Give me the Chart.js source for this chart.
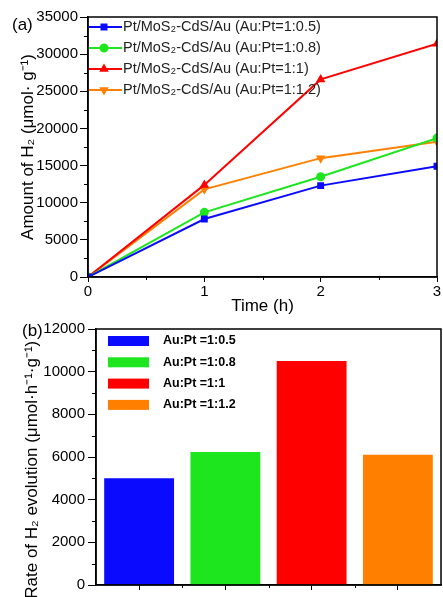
<!DOCTYPE html>
<html>
<head>
<meta charset="utf-8">
<script src="https://cdn.jsdelivr.net/npm/chart.js@4.4.0/dist/chart.umd.min.js"></script>
<style>
  html, body { margin: 0; padding: 0; background: #fff; }
  #wrap { position: relative; width: 443px; height: 597px; overflow: hidden; }
  .box { position: absolute; left: 0; width: 443px; }
  #boxA { top: 0; height: 320px; }
  #boxB { top: 290px; height: 307px; }
</style>
</head>
<body>
<div id="wrap">
  <div class="box" id="boxB"><canvas id="rateChart" width="443" height="307"></canvas></div>
  <div class="box" id="boxA"><canvas id="amountChart" width="443" height="320"></canvas></div>
</div>
<script>
// data
const times = [0, 1, 2, 3];
const seriesNames = [
  'Pt/MoS₂-CdS/Au (Au:Pt=1:0.5)',
  'Pt/MoS₂-CdS/Au (Au:Pt=1:0.8)',
  'Pt/MoS₂-CdS/Au (Au:Pt=1:1)',
  'Pt/MoS₂-CdS/Au (Au:Pt=1:1.2)'
];
const amountBlue = [0, 7800, 12300, 14900];
const amountGreen = [0, 8700, 13500, 18700];
const amountRed = [0, 12400, 26600, 31400];
const amountOrange = [0, 11800, 16000, 18200];

const ratioLabels = ['Au:Pt =1:0.5', 'Au:Pt =1:0.8', 'Au:Pt =1:1', 'Au:Pt =1:1.2'];
const rates = [5000, 6230, 10500, 6100];

const colors = ['#0a0aff', '#1ee61e', '#ff0000', '#ff8000'];
const markers = [
  { style: 'rect', rot: 0 },
  { style: 'circle', rot: 0 },
  { style: 'triangle', rot: 0 },
  { style: 'triangle', rot: 180 }
];

const FONT = "'Liberation Sans', Arial, sans-serif";
Chart.defaults.font.family = FONT;
Chart.defaults.color = '#000';

const plainNumber = v => String(v);

// frame box, minor ticks and panel letter
const frameTicks = {
  id: 'frameTicks',
  afterDraw(chart, args, opts) {
    const { ctx, chartArea: a } = chart;
    const xs = chart.scales.x, ys = chart.scales.y;
    ctx.save();
    ctx.strokeStyle = '#000';
    ctx.lineWidth = 1;
    ctx.beginPath();
    for (let v = opts.xStart; v <= opts.xEnd; v += opts.xStep) {
      const px = Math.round(xs.getPixelForValue(v)) + 0.5;
      ctx.moveTo(px, a.bottom);
      ctx.lineTo(px, a.bottom + 3);
    }
    for (let v = opts.yStart; v <= ys.max; v += opts.yStep) {
      const py = Math.round(ys.getPixelForValue(v)) + 0.5;
      ctx.moveTo(a.left, py);
      ctx.lineTo(a.left - 4, py);
    }
    ctx.stroke();
    ctx.lineWidth = 1.5;
    ctx.strokeRect(a.left, a.top, a.right - a.left, a.bottom - a.top);
    ctx.fillStyle = '#000';
    ctx.font = '17px ' + FONT;
    ctx.textBaseline = 'middle';
    ctx.fillText(opts.panel, opts.panelX, opts.panelY);
    ctx.restore();
  }
};

// legend with line + marker, inside the plot
const lineLegend = {
  id: 'lineLegend',
  afterDraw(chart, args, opts) {
    const { ctx, chartArea: a } = chart;
    ctx.save();
    ctx.font = '14.5px ' + FONT;
    ctx.textBaseline = 'middle';
    chart.data.datasets.forEach((ds, i) => {
      const y = opts.top + i * opts.gap;
      ctx.strokeStyle = ds.borderColor;
      ctx.fillStyle = ds.borderColor;
      ctx.lineWidth = 2;
      ctx.beginPath();
      ctx.moveTo(a.left + 1, y);
      ctx.lineTo(a.left + 34, y);
      ctx.stroke();
      Chart.helpers.drawPoint(ctx, {
        pointStyle: ds.pointStyle, rotation: ds.pointRotation,
        radius: 3.5, borderWidth: 1
      }, a.left + 16, y);
      ctx.fillStyle = '#222';
      ctx.fillText(ds.label, a.left + 35, y);
    });
    ctx.restore();
  }
};

// legend with colour boxes for the bar chart
const boxLegend = {
  id: 'boxLegend',
  afterDraw(chart, args, opts) {
    const { ctx } = chart;
    const ds = chart.data.datasets[0];
    ctx.save();
    ctx.font = 'bold 12.5px ' + FONT;
    ctx.textBaseline = 'middle';
    chart.data.labels.forEach((lab, i) => {
      const y = opts.top + i * opts.gap;
      ctx.fillStyle = ds.backgroundColor[i];
      ctx.fillRect(opts.left, y - 5, 41, 10);
      ctx.fillStyle = '#000';
      ctx.fillText(lab, opts.left + 55, y);
    });
    ctx.restore();
  }
};

const amountSeries = [amountBlue, amountGreen, amountRed, amountOrange];

new Chart(document.getElementById('amountChart'), {
  type: 'line',
  data: {
    datasets: amountSeries.map((vals, i) => ({
      label: seriesNames[i],
      data: times.map((t, k) => ({ x: t, y: vals[k] })),
      borderColor: colors[i],
      backgroundColor: colors[i],
      borderWidth: 2,
      pointStyle: markers[i].style,
      pointRotation: markers[i].rot,
      pointRadius: 3.5,
      tension: 0
    }))
  },
  options: {
    responsive: false,
    animation: false,
    layout: { padding: { top: 17, right: 6, left: 0, bottom: 0 } },
    plugins: {
      legend: { display: false },
      tooltip: { enabled: false },
      frameTicks: { xStart: 0.5, xEnd: 3, xStep: 1, yStart: 2500, yStep: 5000, panel: '(a)', panelX: 12, panelY: 25 },
      lineLegend: { top: 27, gap: 21 }
    },
    scales: {
      x: {
        type: 'linear', min: 0, max: 3,
        ticks: { stepSize: 1, font: { size: 15 }, padding: 1, callback: plainNumber },
        grid: { drawOnChartArea: false, color: '#000', tickLength: 5 },
        border: { color: '#000', width: 1.5 },
        title: { display: true, text: 'Time (h)', font: { size: 17 }, padding: { top: 0, bottom: 3 } },
        afterFit: s => { s.height = 43; }
      },
      y: {
        min: 0, max: 35000,
        ticks: { stepSize: 5000, font: { size: 15 }, padding: 2, callback: plainNumber },
        grid: { drawOnChartArea: false, color: '#000', tickLength: 8 },
        border: { color: '#000', width: 1.5 },
        title: { display: true, text: 'Amount of H₂ (μmol· g⁻¹)', font: { size: 17 }, padding: { top: 18, bottom: 0 } },
        afterFit: s => { s.width = 88; }
      }
    }
  },
  plugins: [frameTicks, lineLegend]
});

new Chart(document.getElementById('rateChart'), {
  type: 'bar',
  data: {
    labels: ratioLabels,
    datasets: [{
      data: rates,
      backgroundColor: colors,
      barPercentage: 0.81,
      categoryPercentage: 1
    }]
  },
  options: {
    responsive: false,
    animation: false,
    layout: { padding: { top: 39, right: 2, left: 0, bottom: 0 } },
    plugins: {
      legend: { display: false },
      tooltip: { enabled: false },
      frameTicks: { xStart: 0.5, xEnd: 3, xStep: 1, yStart: 1000, yStep: 2000, panel: '(b)', panelX: 22, panelY: 41 },
      boxLegend: { left: 108, top: 51, gap: 21.3 }
    },
    scales: {
      x: {
        type: 'category', offset: true,
        ticks: { display: false },
        grid: { offset: false, drawOnChartArea: false, color: '#000', tickLength: 5 },
        border: { color: '#000', width: 1.5 },
        afterFit: s => { s.height = 12; }
      },
      y: {
        min: 0, max: 12000,
        ticks: { stepSize: 2000, font: { size: 15 }, padding: 3, callback: plainNumber },
        grid: { drawOnChartArea: false, color: '#000', tickLength: 8 },
        border: { color: '#000', width: 1.5 },
        // trailing en spaces push the centred title down, as in the original
        title: { display: true, text: 'Rate of H₂ evolution (μmol·h⁻¹·g⁻¹)\u2002\u2002\u2002', font: { size: 17 }, padding: { top: 22, bottom: 0 } },
        afterFit: s => { s.width = 96; }
      }
    }
  },
  plugins: [frameTicks, boxLegend]
});
</script>
</body>
</html>
